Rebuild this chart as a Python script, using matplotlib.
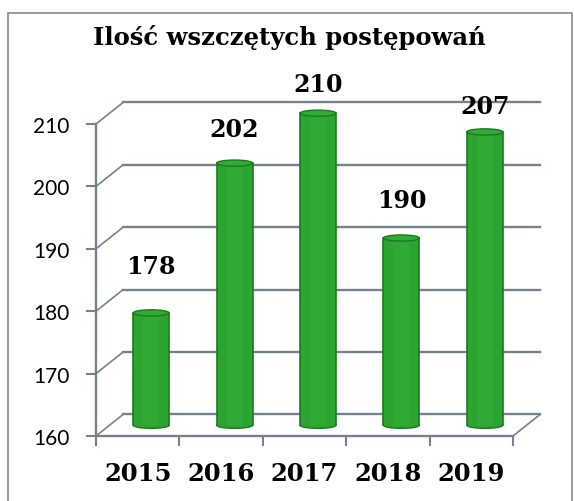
import matplotlib.pyplot as plt
from matplotlib.patches import Ellipse, Rectangle

# dane
lata = ['2015', '2016', '2017', '2018', '2019']
wartosci = [178, 202, 210, 190, 207]
y_ticks = [160, 170, 180, 190, 200, 210]
tytul = 'Ilość wszczętych postępowań'

# wygląd
zielony = '#2ca530'
zielony_ciemny = '#1b7a20'
zielony_jasny = '#3cb843'
szary = '#76818e'
label_off = [47, 34, 29, 38, 26]   # px nad szczytem słupka
dx, dy = 0.324, 3.45                # głębokość "3D"
szer = 0.43
el_h = 1.0

fig = plt.figure(figsize=(5.74, 5.02), dpi=100)
ax = fig.add_axes([96 / 574, 65 / 502, 417 / 574, 312 / 502])
ax.set_xlim(-0.5, 4.5)
ax.set_ylim(160, 210)

# ściany: linie siatki z tyłu + skośne na lewej ścianie
for v in y_ticks:
    ax.plot([-0.5 + dx, 4.5 + dx], [v + dy, v + dy], color=szary, lw=1.7, clip_on=False, zorder=1)
    ax.plot([-0.5, -0.5 + dx], [v, v + dy], color=szary, lw=1.2, clip_on=False, zorder=1)
ax.plot([4.5, 4.5 + dx], [160, 160 + dy], color=szary, lw=1.2, clip_on=False, zorder=1)

# słupki (walce)
xs = [i + dx / 2 for i in range(len(wartosci))]
base = 160 + dy / 2
for x, v, off in zip(xs, wartosci, label_off):
    top = v + dy / 2
    ax.add_patch(Ellipse((x, base), szer, el_h, facecolor=zielony, edgecolor=zielony_ciemny,
                         lw=1, clip_on=False, zorder=3))
    ax.bar(x, top - base, bottom=base, width=szer, color=zielony, edgecolor='none',
           clip_on=False, zorder=4)
    ax.plot([x - szer / 2, x - szer / 2], [base, top], color=zielony_ciemny, lw=1.2, clip_on=False, zorder=5)
    ax.plot([x + szer / 2, x + szer / 2], [base, top], color=zielony_ciemny, lw=1.2, clip_on=False, zorder=5)
    ax.bar(x, top - base, bottom=base, width=szer * 0.45, color=zielony_jasny, alpha=0.3,
           edgecolor='none', clip_on=False, zorder=5)
    ax.add_patch(Ellipse((x, top), szer, el_h, facecolor='#31aa36', edgecolor=zielony_ciemny,
                         lw=1, clip_on=False, zorder=6))
    ax.annotate(str(v), (x, top), xytext=(0, off), textcoords='offset pixels',
                ha='center', va='center', fontsize=17, fontweight='bold',
                family='DejaVu Serif', zorder=7, annotation_clip=False)

# osie
for s in ['top', 'right']:
    ax.spines[s].set_visible(False)
for s in ['left', 'bottom']:
    ax.spines[s].set_color(szary)
    ax.spines[s].set_linewidth(1.7)

ax.set_yticks(y_ticks)
ax.set_yticklabels([str(t) for t in y_ticks], fontsize=15, family='Lato')
ax.tick_params(axis='y', length=7, width=1.5, color=szary, pad=12)

ax.set_xticks(range(len(lata)))
ax.set_xticklabels(lata, fontsize=17.5, fontweight='bold', family='DejaVu Serif')
ax.tick_params(axis='x', which='major', length=0, pad=18)
ax.set_xticks([i - 0.5 for i in range(len(lata) + 1)], minor=True)
ax.tick_params(axis='x', which='minor', length=7, width=1.5, color=szary)
ax.patch.set_visible(False)

fig.text(289 / 574, 1 - 38 / 502, tytul, ha='center', va='center', fontsize=17.5,
         fontweight='bold', family='DejaVu Serif')

# ramka wykresu
fig.patches.append(Rectangle((8 / 574, -0.1), 564 / 574, (502 - 14) / 502 + 0.1,
                             transform=fig.transFigure, fill=False, edgecolor='#8a8a8a', lw=1.2))

fig.savefig('out.png', dpi=100)
